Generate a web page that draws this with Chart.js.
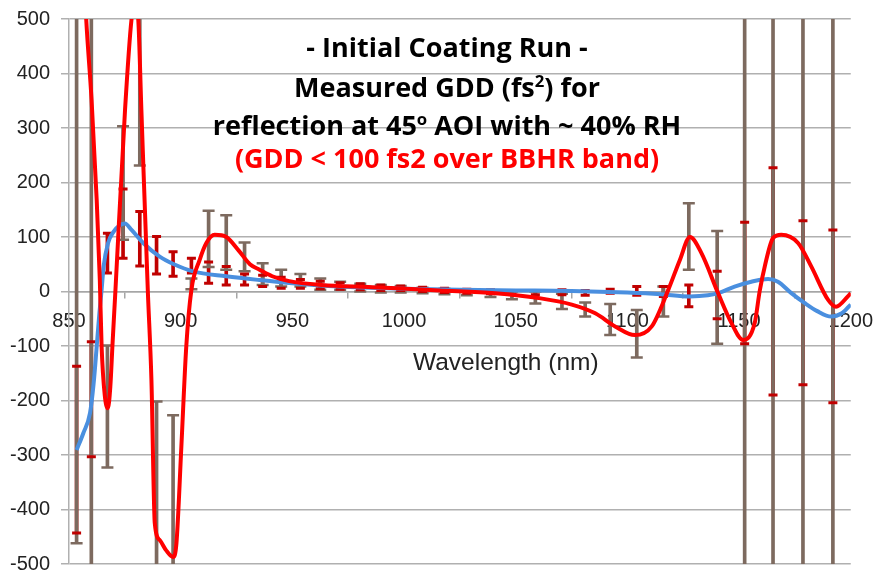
<!DOCTYPE html>
<html>
<head>
<meta charset="utf-8">
<script src="https://cdn.jsdelivr.net/npm/chart.js@4.4.1/dist/chart.umd.min.js"></script>
<style>
  body { margin: 0; background: #fff; }
  #wrap { position: relative; width: 885px; height: 578px; }
  #myChart { display: block; }
  .t { position: absolute; left: 447px; transform: translateX(-50%); white-space: nowrap;
       font-family: "Open Sans", "Noto Sans", sans-serif; font-weight: bold; font-size: 27px; line-height: 1; color: #000; }
  .t sup { font-size: 62%; line-height: 0; vertical-align: 0.6em; }
  .red { color: #ff0000; }
  #xtitle { position: absolute; left: 413px; top: 350px; white-space: nowrap;
            font-family: "Liberation Sans", Arial, sans-serif; font-size: 24.5px; line-height: 1; color: #222; }
</style>
</head>
<body>
<div id="wrap">
  <canvas id="myChart" width="885" height="578"></canvas>
  <div class="t" style="top:33px">- Initial Coating Run -</div>
  <div class="t" style="top:73px">Measured GDD (fs<sup>2</sup>) for</div>
  <div class="t" style="top:111px">reflection at 45<sup>o</sup> AOI with ~ 40% RH</div>
  <div class="t red" style="top:144px">(GDD &lt; 100 fs2 over BBHR band)</div>
  <div id="xtitle">Wavelength (nm)</div>
</div>
<script>
// measured points (nm) - same positions for both error bar sets
let wavelength = [853.4, 860.0, 867.2, 874.2, 881.7, 889.2, 896.6, 904.8, 912.5, 920.4,
  928.6, 936.7, 945.0, 953.6, 962.5, 971.4, 980.4, 989.6, 998.5, 1008.3,
  1018.1, 1028.1, 1038.7, 1048.3, 1058.8, 1070.7, 1081.1, 1092.3, 1104.2, 1116.1,
  1127.5, 1140.2, 1152.5, 1165.2, 1178.6, 1192.0];

// grey-brown error bars (low / high)
let brownLow = [-462, -680, -323, 95, 231, -860, -760, 4, 45, 40,
  37, 12, 9, 9, 3, 3, 0, -2, -2, -3,
  -5, -7, -10, -14, -22, -32, -46, -80, -121, -46,
  40, -96, -900, -900, -900, -900];
let brownHigh = [720, 760, -99, 303, 790, -202, -227, 24, 148, 140,
  90, 52, 40, 32, 24, 18, 14, 12, 10, 7,
  5, 3, 1, 0, 0, -4, -20, -23, -34, 9,
  162, 111, 900, 900, 900, 900];

// dark red error bars (low / high)
let darkLow = [-443, -303, 34, 61, 47, 32, 28, 34, 15, 12,
  12, 9, 6, 6, 5, 4, 3, 2, 2, 0,
  -2, -3, -4, -5, -6, -6, -7, -3, -7, -9,
  -28, -50, -96, -190, -171, -204];
let darkHigh = [-137, -92, 107, 188, 147, 101, 73, 61, 54, 46,
  32, 30, 26, 22, 19, 16, 14, 12, 10, 8,
  6, 4, 3, 2, 2, 3, 2, 4, 9, 9,
  12, 37, 127, 227, 130, 113];

// blue curve
let blueX = [853.4, 856.4, 859.4, 861, 862.4, 863.6, 864.6, 865.5, 867.5, 870, 872.5, 875, 878,
  883.2, 890.6, 897, 905.5, 920.4, 935.3, 950, 971, 1000, 1025, 1050, 1075, 1100, 1115,
  1128, 1136, 1140.6, 1148, 1155.5, 1163, 1167.4, 1173.4, 1179.3, 1185, 1191.2, 1196, 1200];
let blueY = [-291, -260, -223, -170, -101, -40, 3, 46, 89, 110, 121, 125, 113,
  89, 64, 50, 37, 28, 21, 15, 9, 5, 3, 2, 1, -2, -5,
  -9, -7, -3, 9, 18, 23, 18, -3, -21, -36, -46, -40, -24];

// red curve
let redX = [853.4, 857.7, 860.1, 862.4, 863.8, 864.6, 866, 867.4, 868.5, 869.5, 870.8, 875.1, 878, 879.5,
  881, 882.4, 885.3, 886.9, 888.4, 890.6, 893.5, 896.6, 898.1, 900.3, 902.5, 904.8, 908.5, 911.5,
  915.2, 920.4, 926, 931, 935.3, 941, 948.6, 963, 985.7, 1000.8, 1015.6, 1040.9, 1060.3, 1075.1,
  1085.6, 1094.5, 1103.4, 1110.9, 1118.3, 1123.5, 1128, 1133.2, 1140.6, 1146.6, 1151.8, 1157,
  1159.2, 1161.5, 1165.2, 1168.9, 1176.4, 1182.3, 1189.8, 1193.4, 1198.7, 1200];
let redY = [880, 500, 352, 168, 21, -101, -190, -214, -175, -95, 3, 334, 500, 530,
  500, 334, 0, -162, -425, -456, -475, -487, -462, -285, -101, 3, 58, 89,
  104, 100, 75, 50, 40, 28, 19, 12, 8, 5, 2, -3, -12, -24,
  -40, -64, -80, -64, 3, 58, 100, 70, -3, -58, -89, -58,
  0, 46, 98, 104, 89, 46, -15, -28, -9, -3];

let xTicks = [850, 900, 950, 1000, 1050, 1100, 1150, 1200];
let yTicks = [-500, -400, -300, -200, -100, 0, 100, 200, 300, 400, 500];

const brown = '#7d6a5f';
const darkRed = '#c00000';
const tickFont = { family: 'Liberation Sans', size: 20 };

function pts(xs, ys) { return xs.map((x, i) => ({ x: x, y: ys[i] })); }
function stems(lo, hi) { return wavelength.map((x, i) => ({ x: x, y: [lo[i], hi[i]] })); }
function caps(lo, hi) { return pts(wavelength, lo).concat(pts(wavelength, hi)); }

let ctx = document.getElementById('myChart').getContext('2d');

let gddChart = new Chart(ctx, {
  type: 'line',
  data: {
    datasets: [
      { type: 'line', data: pts(redX, redY), borderColor: '#ff0000', borderWidth: 4,
        pointRadius: 0, cubicInterpolationMode: 'monotone', clip: 0, order: 0 },
      { type: 'line', data: pts(blueX, blueY), borderColor: '#4a8fdf', borderWidth: 4,
        pointRadius: 0, cubicInterpolationMode: 'monotone', clip: 0, order: 1 },
      { type: 'line', data: caps(darkLow, darkHigh), showLine: false, pointStyle: 'line',
        pointRadius: 4.5, pointBorderWidth: 3, pointBorderColor: darkRed, clip: 0, order: 2 },
      { type: 'line', data: caps(brownLow, brownHigh), showLine: false, pointStyle: 'line',
        pointRadius: 6, pointBorderWidth: 2.5, pointBorderColor: brown, clip: 0, order: 3 },
      { type: 'bar', data: stems(brownLow, brownHigh), backgroundColor: brown,
        barThickness: 3, grouped: false, borderWidth: 0, clip: 0, order: 4 },
      { type: 'bar', data: stems(darkLow, darkHigh), backgroundColor: darkRed,
        barThickness: 3, grouped: false, borderWidth: 0, clip: 0, order: 5 }
    ]
  },
  options: {
    responsive: false,
    animation: false,
    devicePixelRatio: 1,
    layout: { padding: { left: 0, top: 19, right: 32, bottom: 14 } },
    plugins: { legend: { display: false }, tooltip: { enabled: false } },
    scales: {
      x: {
        type: 'linear',
        position: { y: 0 },
        min: 850, max: 1200,
        offset: false,
        afterBuildTicks: s => { s.ticks = xTicks.map(v => ({ value: v })); },
        grid: { drawOnChartArea: false, drawTicks: true, tickLength: 6, color: '#a6a6a6', lineWidth: 1.5 },
        border: { display: true, color: '#a6a6a6', width: 1.5 },
        ticks: { font: tickFont, color: '#222', padding: 12, maxRotation: 0, autoSkip: false,
                 callback: v => String(v) }
      },
      y: {
        min: -500, max: 500,
        afterBuildTicks: s => { s.ticks = yTicks.map(v => ({ value: v })); },
        afterFit: s => { s.width = 69; s.paddingTop = 0; s.paddingBottom = 0; },
        grid: { color: '#b0b0b0', lineWidth: 1.5, tickLength: 8 },
        border: { display: true, color: '#b0b0b0', width: 1.5 },
        ticks: { font: tickFont, color: '#222', padding: 11, callback: v => String(v) }
      }
    }
  }
});
</script>
</body>
</html>
